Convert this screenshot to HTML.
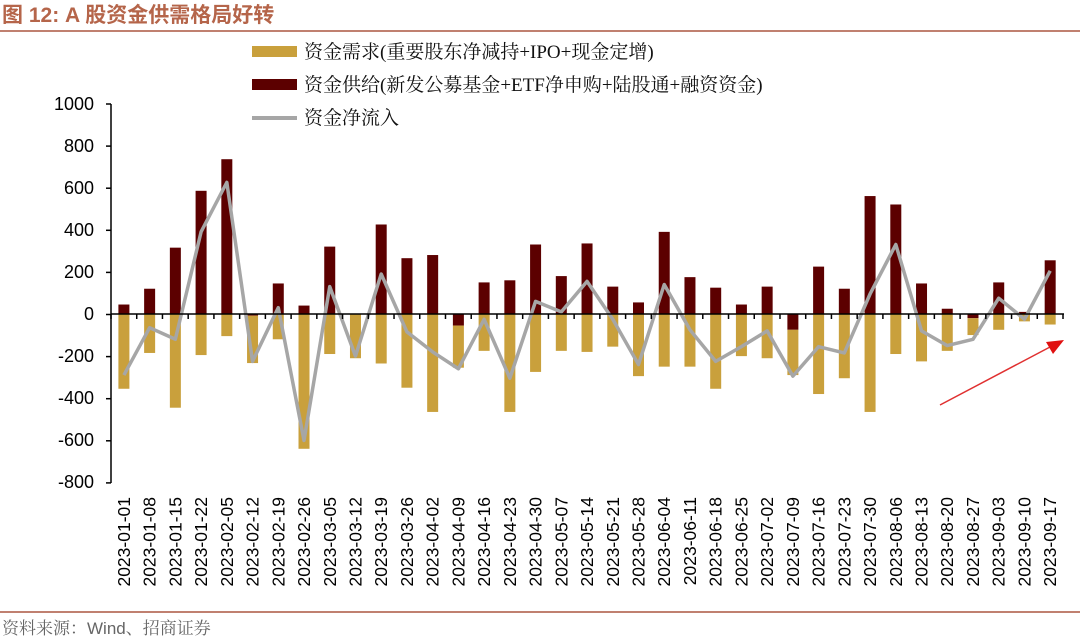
<!DOCTYPE html>
<html><head><meta charset="utf-8"><style>
body{margin:0;background:#fff;width:1080px;height:640px;overflow:hidden}
svg{display:block}
.xl{font:17.5px "Liberation Sans",sans-serif;fill:#000}
.yl{font:18px "Liberation Sans",sans-serif;fill:#000}
.lg{font:19px "Liberation Serif","Noto Serif CJK SC",serif;fill:#111}
</style></head><body>
<svg id="s" width="1080" height="640" viewBox="0 0 1080 640">
<text x="2" y="22" style="font:bold 21px 'Liberation Sans','Noto Sans CJK SC',sans-serif;fill:#b5654a">图 12:  A 股资金供需格局好转</text>
<line x1="0" y1="31" x2="1080" y2="31" stroke="#c08070" stroke-width="2"/>
<line x1="0" y1="612" x2="1080" y2="612" stroke="#c08070" stroke-width="2"/>
<text x="2" y="634" style="font:17px 'Liberation Sans','Noto Serif CJK SC',serif;fill:#666">资料来源：Wind、招商证券</text>
<rect x="252" y="46" width="45" height="11" fill="#c9a03c"/>
<text class="lg" x="304" y="58">资金需求(重要股东净减持+IPO+现金定增)</text>
<rect x="252" y="79" width="45" height="11" fill="#5c0000"/>
<text class="lg" x="304" y="91">资金供给(新发公募基金+ETF净申购+陆股通+融资资金)</text>
<line x1="252" y1="118" x2="297" y2="118" stroke="#a6a6a6" stroke-width="4"/>
<text class="lg" x="304" y="124">资金净流入</text>
<g class="yl" text-anchor="end">
<text x="94" y="110">1000</text><text x="94" y="152">800</text><text x="94" y="194">600</text>
<text x="94" y="236">400</text><text x="94" y="278">200</text><text x="94" y="320">0</text>
<text x="94" y="362">-200</text><text x="94" y="404">-400</text><text x="94" y="446">-600</text>
<text x="94" y="488">-800</text>
</g>
<g id="bars"></g>
<g class="xl" id="xl">
<text transform="translate(130,497) rotate(-90)" text-anchor="end">2023-01-01</text>
<text transform="translate(155.7,497) rotate(-90)" text-anchor="end">2023-01-08</text>
<text transform="translate(181.4,497) rotate(-90)" text-anchor="end">2023-01-15</text>
<text transform="translate(207.1,497) rotate(-90)" text-anchor="end">2023-01-22</text>
<text transform="translate(232.9,497) rotate(-90)" text-anchor="end">2023-02-05</text>
<text transform="translate(258.6,497) rotate(-90)" text-anchor="end">2023-02-12</text>
<text transform="translate(284.3,497) rotate(-90)" text-anchor="end">2023-02-19</text>
<text transform="translate(310.1,497) rotate(-90)" text-anchor="end">2023-02-26</text>
<text transform="translate(335.8,497) rotate(-90)" text-anchor="end">2023-03-05</text>
<text transform="translate(361.5,497) rotate(-90)" text-anchor="end">2023-03-12</text>
<text transform="translate(387.2,497) rotate(-90)" text-anchor="end">2023-03-19</text>
<text transform="translate(413,497) rotate(-90)" text-anchor="end">2023-03-26</text>
<text transform="translate(438.7,497) rotate(-90)" text-anchor="end">2023-04-02</text>
<text transform="translate(464.4,497) rotate(-90)" text-anchor="end">2023-04-09</text>
<text transform="translate(490.1,497) rotate(-90)" text-anchor="end">2023-04-16</text>
<text transform="translate(515.9,497) rotate(-90)" text-anchor="end">2023-04-23</text>
<text transform="translate(541.6,497) rotate(-90)" text-anchor="end">2023-04-30</text>
<text transform="translate(567.3,497) rotate(-90)" text-anchor="end">2023-05-07</text>
<text transform="translate(593,497) rotate(-90)" text-anchor="end">2023-05-14</text>
<text transform="translate(618.8,497) rotate(-90)" text-anchor="end">2023-05-21</text>
<text transform="translate(644.5,497) rotate(-90)" text-anchor="end">2023-05-28</text>
<text transform="translate(670.2,497) rotate(-90)" text-anchor="end">2023-06-04</text>
<text transform="translate(696,497) rotate(-90)" text-anchor="end">2023-06-11</text>
<text transform="translate(721.7,497) rotate(-90)" text-anchor="end">2023-06-18</text>
<text transform="translate(747.4,497) rotate(-90)" text-anchor="end">2023-06-25</text>
<text transform="translate(773.1,497) rotate(-90)" text-anchor="end">2023-07-02</text>
<text transform="translate(798.9,497) rotate(-90)" text-anchor="end">2023-07-09</text>
<text transform="translate(824.6,497) rotate(-90)" text-anchor="end">2023-07-16</text>
<text transform="translate(850.3,497) rotate(-90)" text-anchor="end">2023-07-23</text>
<text transform="translate(876,497) rotate(-90)" text-anchor="end">2023-07-30</text>
<text transform="translate(901.8,497) rotate(-90)" text-anchor="end">2023-08-06</text>
<text transform="translate(927.5,497) rotate(-90)" text-anchor="end">2023-08-13</text>
<text transform="translate(953.2,497) rotate(-90)" text-anchor="end">2023-08-20</text>
<text transform="translate(979,497) rotate(-90)" text-anchor="end">2023-08-27</text>
<text transform="translate(1004.7,497) rotate(-90)" text-anchor="end">2023-09-03</text>
<text transform="translate(1030.4,497) rotate(-90)" text-anchor="end">2023-09-10</text>
<text transform="translate(1056.1,497) rotate(-90)" text-anchor="end">2023-09-17</text>
</g>
<line x1="940" y1="405" x2="1050" y2="347" stroke="#e03030" stroke-width="1.5"/>
<polygon points="1064,340 1046,342 1053,354" fill="#e01010"/>
</svg>
<script>
(function(){
var s=[45,120,315,585,735,-8,145,40,320,0,425,265,280,-55,150,160,330,180,335,130,55,390,175,125,45,130,-75,225,120,560,520,145,25,-20,150,10,255];
var d=[-355,-185,-445,-195,-105,-225,-120,-640,-190,-210,-235,-350,-465,-200,-175,-465,-275,-175,-180,-155,-295,-250,-250,-355,-200,-210,-215,-380,-305,-465,-190,-225,-175,-80,-75,-35,-50];
var n=[-290,-65,-120,390,625,-225,30,-600,130,-200,190,-85,-180,-260,-25,-305,60,10,155,-25,-240,140,-75,-225,-155,-80,-295,-155,-185,95,330,-80,-150,-120,75,-25,205];
var Y=function(v){return 314-v*0.2106},X=function(i){return 123.9+25.73*i},h='';
for(var i=0;i<37;i++){var x=X(i)-5.5;var sv=s[i];var base=0;
 if(sv>=0){h+='<rect x="'+x+'" y="'+Y(sv)+'" width="11" height="'+(sv*0.2106)+'" fill="#5c0000"/>';}
 else{h+='<rect x="'+x+'" y="314" width="11" height="'+(-sv*0.2106)+'" fill="#5c0000"/>';base=sv;}
 h+='<rect x="'+x+'" y="'+Y(base)+'" width="11" height="'+(-d[i]*0.2106)+'" fill="#c9a03c"/>';}
h+='<polyline fill="none" stroke="#a6a6a6" stroke-width="3.5" stroke-linejoin="round" points="'+n.map(function(v,i){return X(i)+','+Y(v)}).join(' ')+'"/>';
h+='<line x1="111" y1="104" x2="111" y2="483" stroke="#000" stroke-width="1.5"/>';
for(var k=0;k<10;k++)h+='<line x1="106" y1="'+(104+k*42.1)+'" x2="111" y2="'+(104+k*42.1)+'" stroke="#000" stroke-width="1.5"/>';
h+='<line x1="111" y1="314" x2="1064" y2="314" stroke="#000" stroke-width="1.5"/>';
for(var k=0;k<=37;k++)h+='<line x1="'+(111+25.73*k)+'" y1="314" x2="'+(111+25.73*k)+'" y2="319" stroke="#000" stroke-width="1.5"/>';
document.getElementById('bars').innerHTML=h;
})();
</script>
</body></html>
